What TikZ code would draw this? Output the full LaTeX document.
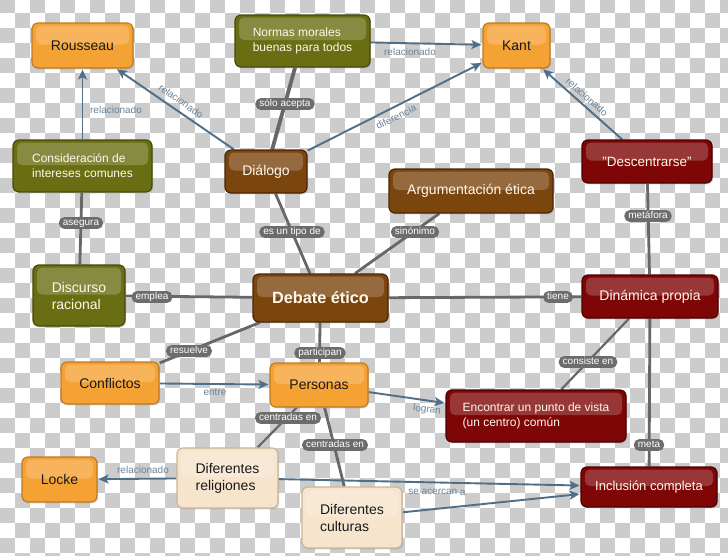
\documentclass[tikz,border=0pt]{standalone}
\usepackage{fontspec}
\setmainfont{Liberation Sans}
\usetikzlibrary{arrows.meta,shadows}
\pgfdeclarelayer{bg}
\pgfdeclarelayer{edges}
\pgfsetlayers{bg,edges,main}

\definecolor{checker}{HTML}{CCCCCC}
\definecolor{orfill}{HTML}{F5A234}
\definecolor{orline}{HTML}{BF7A22}
\definecolor{olfill}{HTML}{6A6E12}
\definecolor{olline}{HTML}{474A06}
\definecolor{brfill}{HTML}{7B450E}
\definecolor{brline}{HTML}{4A2604}
\definecolor{rdfill}{HTML}{7E0606}
\definecolor{rdline}{HTML}{4C0000}
\definecolor{bgfill}{HTML}{F7E4CC}
\definecolor{bgline}{HTML}{C9B597}
\definecolor{linkgray}{HTML}{676767}
\definecolor{pillgray}{HTML}{6C6C6C}
\definecolor{arrblue}{HTML}{4F6F88}
\definecolor{labblue}{HTML}{6A8399}
\definecolor{cream}{HTML}{FFF8EE}

\tikzset{
  box/.style={rounded corners=6pt, draw, line width=1.2pt, inner sep=0pt,
    align=left, font=\fontsize{14}{17}\selectfont,
    drop shadow={opacity=0.3, shadow xshift=1.2pt, shadow yshift=-1.4pt},
    path picture={\fill[white, opacity=0.2, rounded corners=5pt]
      ([xshift=4pt, yshift=-2.5pt]path picture bounding box.north west)
      rectangle ([xshift=-4pt, yshift=1pt]path picture bounding box.east);}},
  orbox/.style={box, fill=orfill, draw=orline, text=black!90},
  olbox/.style={box, fill=olfill, draw=olline, text=cream},
  brbox/.style={box, fill=brfill, draw=brline, text=cream},
  rdbox/.style={box, fill=rdfill, draw=rdline, text=cream},
  bgbox/.style={box, fill=bgfill, draw=bgline, text=black!90},
  sz/.style 2 args={minimum width=#1pt, minimum height=#2pt},
  small/.style={font=\fontsize{12}{15}\selectfont},
  link/.style={draw=linkgray, line width=2.8pt},
  arr/.style={draw=arrblue, line width=1.9pt,
    -{Stealth[length=10pt, width=9pt, inset=2.5pt]}, shorten >=1pt},
  pill/.style={fill=pillgray, text=white, rounded corners=5.5pt,
    inner xsep=4pt, inner ysep=1.3pt, text height=7.3pt, text depth=2pt,
    font=\fontsize{10}{11}\selectfont},
  bluelab/.style={text=labblue, inner sep=0pt, font=\fontsize{10}{11}\selectfont}
}

\begin{document}
\begin{tikzpicture}[x=1pt, y=-1pt]
\useasboundingbox (0,0) rectangle (728,555);

% ---------- background checkerboard ----------
\begin{pgfonlayer}{bg}
\fill[white] (0,0) rectangle (728,555);
\begin{scope}
\clip (0,0) rectangle (728,555);
\foreach \j in {0,...,37}{
  \pgfmathtruncatemacro{\off}{15*mod(\j,2)}
  \foreach \i in {0,...,24}{
    \fill[checker] ({30*\i+\off},{15*\j-2}) rectangle ++(15,15);
  }
}
\end{scope}
\end{pgfonlayer}

% ---------- concepts ----------
\node[orbox, sz={101}{45}] (rous) at (82.5,45.5) {Rousseau};
\node[olbox, small, sz={135}{52}] (normas) at (302.5,41) {Normas morales\\buenas para todos};
\node[orbox, sz={67}{45}] (kant) at (516.5,45.5) {Kant};
\node[olbox, small, sz={139}{52}] (cons) at (82.5,166) {Consideración de\\intereses comunes};
\node[brbox, sz={82}{43}] (dial) at (266,171.5) {Diálogo};
\node[rdbox, sz={130}{43}, font=\fontsize{13.5}{16}\selectfont] (desc) at (647,161.5) {"Descentrarse"};
\node[brbox, sz={164}{44}] (arg) at (471,191) {Argumentación ética};
\node[olbox, sz={92}{61}] (disc) at (79,295.5) {Discurso\\racional};
\node[brbox, sz={135}{48}, font=\fontsize{16.3}{19}\selectfont\bfseries] (deb) at (320.5,298) {Debate ético};
\node[rdbox, sz={136}{43}] (din) at (650,296.5) {Dinámica propia};
\node[orbox, sz={98}{42}] (conf) at (110,383) {Conflictos};
\node[orbox, sz={98}{44}] (pers) at (319,385) {Personas};
\node[rdbox, small, sz={180}{52}] (enc) at (536,416) {Encontrar un punto de vista\\(un centro) común};
\node[orbox, sz={75}{45}] (locke) at (59.5,479.5) {Locke};
\node[bgbox, sz={101}{60}] (rel) at (227.5,478) {Diferentes\\religiones};
\node[bgbox, sz={100}{61}] (cult) at (352,517.5) {Diferentes\\culturas};
\node[rdbox, sz={136}{40}, font=\fontsize{13}{15}\selectfont] (incl) at (649,487) {Inclusión completa};

% ---------- connectors ----------
\begin{pgfonlayer}{edges}
\draw[link, line width=3.8pt] (dial) -- (normas);
\draw[link] (cons) -- (disc);
\draw[link] (dial) -- (deb);
\draw[link] (arg) -- (deb);
\draw[link] (disc) -- (deb);
\draw[link] (deb) -- (din);
\draw[link] (desc) -- (din);
\draw[link] (deb) -- (conf);
\draw[link] (deb) -- (pers);
\draw[link, line width=2.2pt] (din) -- (enc);
\draw[link] (din) -- (incl);
\draw[link, line width=2.2pt] (pers) -- (rel);
\draw[link] (pers) -- (cult);

\draw[arr] (cons) -- (rous);
\draw[arr] (dial) -- (rous);
\draw[arr] (normas) -- (kant);
\draw[arr] (dial) -- (kant);
\draw[arr] (desc) -- (kant);
\draw[arr] (conf) -- (pers);
\draw[arr] (pers) -- (enc);
\draw[arr] (rel) -- (locke);
\draw[arr] (rel) -- (incl);
\draw[arr] (cult) -- (incl);

% linking phrases
\node[pill] (l1) at (285,104) {sólo acepta};
\node[pill] (l2) at (81,223) {asegura};
\node[pill] (l3) at (292,232) {es un tipo de};
\node[pill] (l4) at (415,232) {sinónimo};
\node[pill] (l5) at (152,297) {emplea};
\node[pill] (l6) at (558,297) {tiene};
\node[pill] (l7) at (648,216) {metáfora};
\node[pill] (l8) at (189,351) {resuelve};
\node[pill] (l9) at (320,353) {participan};
\node[pill] (l10) at (588,362) {consiste en};
\node[pill] (l11) at (649,445) {meta};
\node[pill] (l12) at (288,418) {centradas en};
\node[pill] (l13) at (335,445) {centradas en};

\node[bluelab] (b1) at (116,110) {relacionado};
\node[bluelab, rotate=-35] (b2) at (181,101) {relacionado};
\node[bluelab] (b3) at (410,52) {relacionado};
\node[bluelab, rotate=26.7] (b4) at (396,117) {diferencia};
\node[bluelab, rotate=-41] (b5) at (587,97) {relacionado};
\node[bluelab] (b6) at (215,392) {entre};
\node[bluelab, rotate=-7.6] (b7) at (427,410) {logran};
\node[bluelab] (b8) at (143,470) {relacionado};
\node[bluelab, rotate=-1.2] (b9) at (437,492) {se acercan a};
\end{pgfonlayer}
\end{tikzpicture}
\end{document}
